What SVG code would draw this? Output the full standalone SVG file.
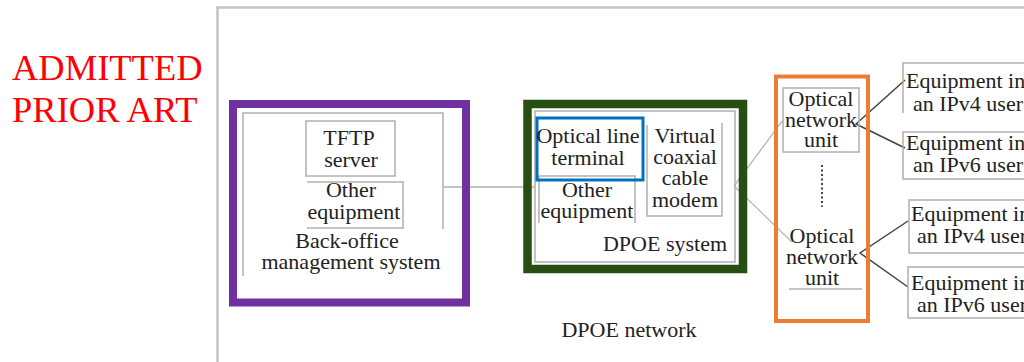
<svg xmlns="http://www.w3.org/2000/svg" width="1024" height="362" viewBox="0 0 1024 362">
<style>
  .t{font-family:"Liberation Serif","Times New Roman",serif;font-size:22px;fill:#222}
  .c{text-anchor:middle}
  .g{fill:none;stroke:#b0b0b0;stroke-width:1.5}
  .ln{fill:none;stroke:#444;stroke-width:1.5}
  .lg{fill:none;stroke:#b8b8b8;stroke-width:1.3}
</style>
<rect width="1024" height="362" fill="#fff"/>
<g id="title">
  <text x="12" y="80" font-family="Liberation Serif, Times New Roman, serif" font-size="36.5" fill="#ff0000">ADMITTED</text>
  <text x="12" y="122" font-family="Liberation Serif, Times New Roman, serif" font-size="36.5" fill="#ff0000">PRIOR ART</text>
</g>
<g id="dpoe-network">
  <path d="M217.5,362 V7.5 H1024" fill="none" stroke="#c4c4c4" stroke-width="2.5"/>
  <text class="t c" x="629" y="337">DPOE network</text>
</g>
<g id="connectors">
  <path class="g" d="M443,187 H534"/>
  <path class="lg" d="M734,186 L783,120"/>
  <path class="lg" d="M734,186 L792,242"/>
  <path class="ln" d="M905,80 L856,124 L905,148"/>
  <path class="ln" d="M908,221 L860,253 L908,287"/>
</g>
<g id="back-office">
  <rect x="233" y="104" width="233" height="198.5" fill="none" stroke="#7030a0" stroke-width="8"/>
  <path class="g" d="M243,276 V113 H443 V229"/>
  <text class="t c" x="351" y="265" dy="4">management system</text>
  <text class="t c" x="347" y="248">Back-office</text>
</g>
<g id="tftp-server">
  <rect class="g" x="306" y="121" width="89" height="55"/>
  <text class="t c" x="349" y="145">TFTP</text>
  <text class="t c" x="351" y="167">server</text>
</g>
<g id="other-equipment-1">
  <path class="g" d="M307,182 H403 V228 H307"/>
  <text class="t c" x="351" y="197">Other</text>
  <text class="t c" x="354" y="219">equipment</text>
</g>
<g id="dpoe-system">
  <rect x="527.5" y="104" width="215.5" height="165" fill="none" stroke="#274e13" stroke-width="8.5"/>
  <rect class="g" x="535" y="111" width="200" height="151"/>
  <text class="t c" x="665" y="251">DPOE system</text>
</g>
<g id="other-equipment-2">
  <path class="g" d="M539,223 V176 H635 V223"/>
  <text class="t c" x="587" y="197">Other</text>
  <text class="t c" x="587" y="218">equipment</text>
</g>
<g id="olt">
  <rect x="537" y="118" width="106" height="62" fill="none" stroke="#0070c0" stroke-width="3"/>
  <text class="t c" x="588" y="143">Optical line</text>
  <text class="t c" x="588" y="165">terminal</text>
</g>
<g id="vcm">
  <path class="g" d="M647,125 V216 H722 V123"/>
  <text class="t c" x="685" y="143">Virtual</text>
  <text class="t c" x="685" y="164">coaxial</text>
  <text class="t c" x="685" y="185">cable</text>
  <text class="t c" x="685" y="207">modem</text>
</g>
<g id="onu-group">
  <rect x="776" y="76.5" width="92" height="244.5" fill="none" stroke="#ed7d31" stroke-width="4"/>
  <path d="M822,165 V207" fill="none" stroke="#444" stroke-width="2" stroke-dasharray="2,2.5"/>
</g>
<g id="onu-1">
  <rect class="g" x="783" y="88" width="76" height="64"/>
  <text class="t c" x="821" y="106">Optical</text>
  <text class="t c" x="821" y="127">network</text>
  <text class="t c" x="821" y="147">unit</text>
</g>
<g id="onu-2">
  <path class="g" d="M789,289 H862"/>
  <text class="t c" x="822" y="243">Optical</text>
  <text class="t c" x="822" y="264">network</text>
  <text class="t c" x="822" y="285">unit</text>
</g>
<g id="equip-ipv4-1">
  <path class="g" d="M1030,63 H903 V113"/>
  <text class="t" x="906" y="88">Equipment in</text>
  <text class="t" x="913" y="111">an IPv4 user</text>
</g>
<g id="equip-ipv6-1">
  <rect class="g" x="903" y="132" width="130" height="47"/>
  <text class="t" x="906" y="150">Equipment in</text>
  <text class="t" x="913" y="172">an IPv6 user</text>
</g>
<g id="equip-ipv4-2">
  <rect class="g" x="909" y="200" width="130" height="53"/>
  <text class="t" x="911" y="221">Equipment in</text>
  <text class="t" x="917" y="243">an IPv4 user</text>
</g>
<g id="equip-ipv6-2">
  <rect class="g" x="908" y="267" width="130" height="51"/>
  <text class="t" x="911" y="290">Equipment in</text>
  <text class="t" x="917" y="312">an IPv6 user</text>
</g>
</svg>
